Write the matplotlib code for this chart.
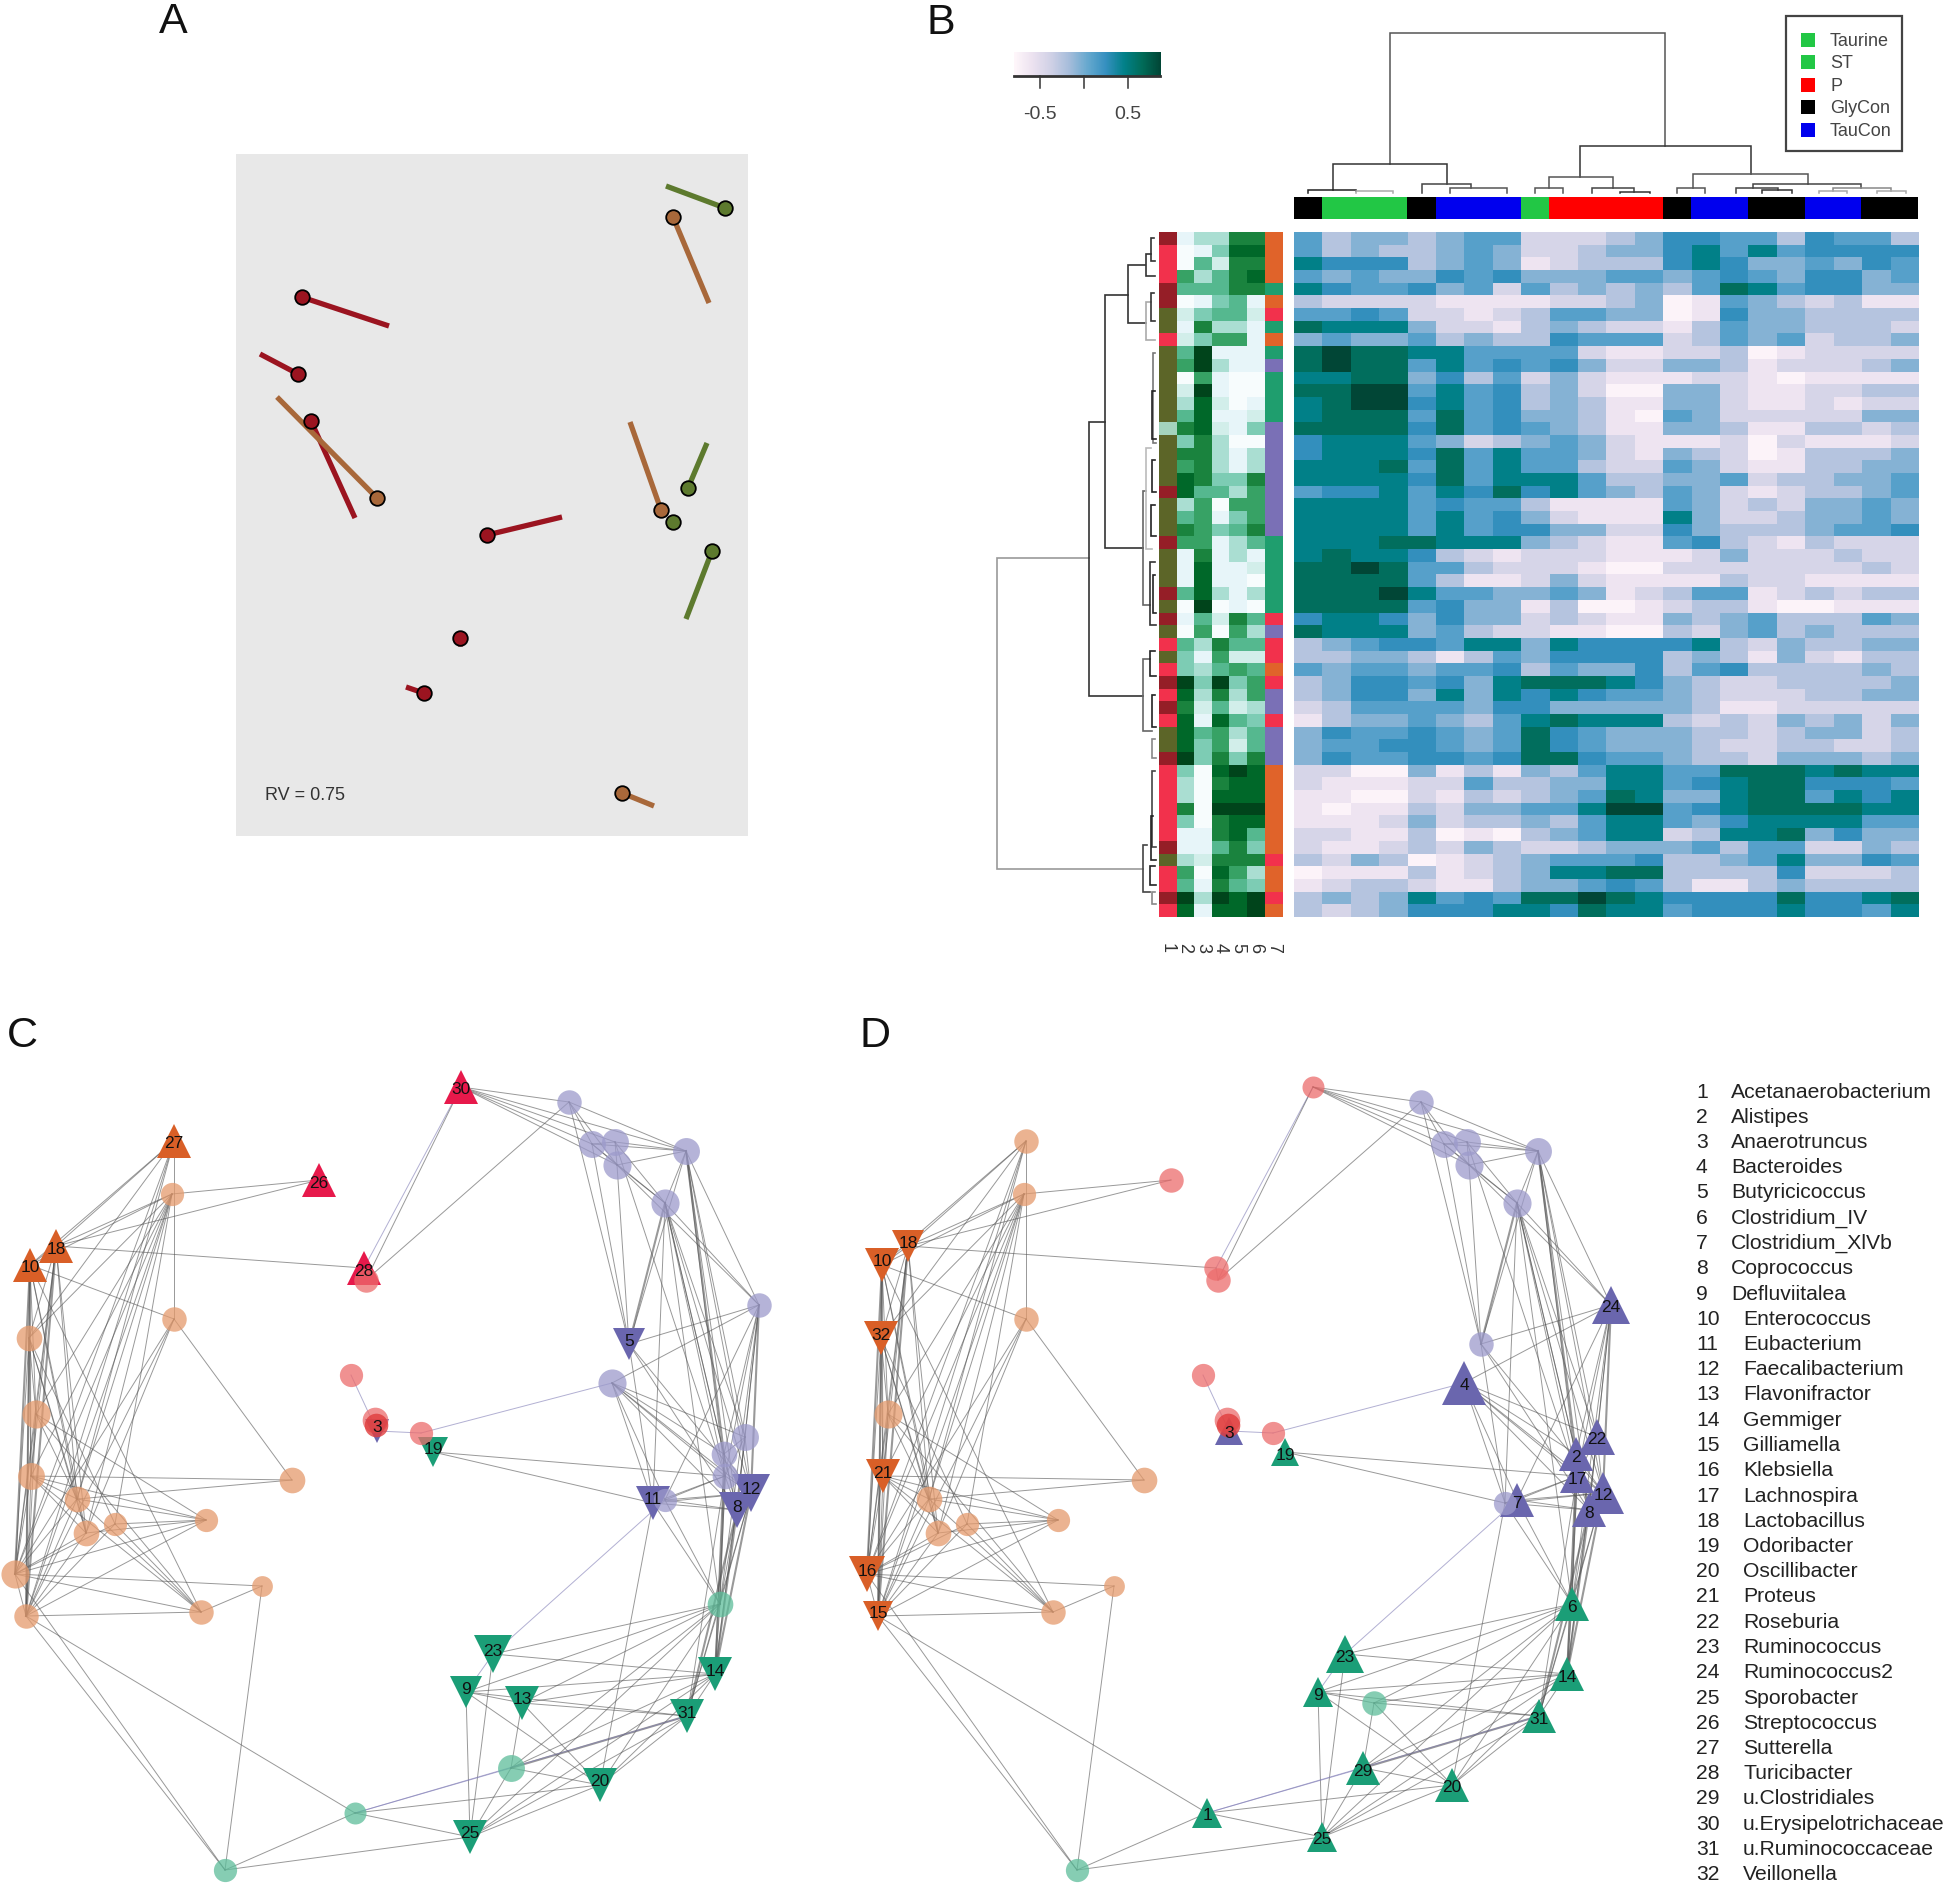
import numpy as np
import matplotlib
matplotlib.use('Agg')
import matplotlib.pyplot as plt
from matplotlib.colors import to_rgb
from matplotlib.patches import Rectangle

plt.rcParams['font.family'] = ['Liberation Sans', 'DejaVu Sans']

W, H = 1946, 1884

# panel A, procrustes residuals: start point -> end point
arrow_x0 = [301.5, 298, 311, 487, 460, 423.5, 673, 377, 661, 622, 725, 688, 673, 712]
arrow_y0 = [297, 374, 421, 535, 638, 693, 217, 498, 510, 793, 208, 488, 522, 551]
arrow_x1 = [389, 260, 355, 562, 460, 406, 709, 277, 630, 654, 666, 707, 669, 686]
arrow_y1 = [326, 354, 518, 517, 646, 687, 303, 397, 422, 806, 186, 443, 529, 619]
arrow_col = ['#9b1420'] * 6 + ['#a8683a'] * 4 + ['#5d7a2e'] * 4

# panel B, main heatmap, one digit per cell (0 = low, 9 = high)
heat_rows = [
    "5344345522234665536553", "5343345422344675756666", "7666345412333676445465",
    "5454465644455456546645", "7655645253434358756644", "3222211112234015432311",
    "5565221235544016443333", "8777422134322135443332", "4544534336555235452334",
    "8988775555211223012222", "8988575656422443122234", "7788463524211122101111",
    "8899575634200442112233", "7899675634311442112122", "7888585644310542222244",
    "8888685654311443113323", "6777542345421112021112", "6777685755421432013334",
    "7778585755322542113344", "7777685777533445233445", "5667576867543542123345",
    "7777565531111542324454", "7777575642111742234454", "7777575664422643334556",
    "7778877743211563213222", "7877632122211124222322", "8898553222100222222232",
    "8888531124211113221111", "8889755445412355123233", "8888564413001233100111",
    "6776464423211434533354", "8777453221100324534333", "3456657747666673243344",
    "3344313546666343142133", "5455455635446356333343", "3466564788876432233334",
    "3466474767655432223344", "2355554664444431122222", "1344543578777323243424",
    "4655654586544433234423", "4556654586544432233223", "4655665688655433244434",
    "2200413143577558887877", "2111225334477567886665", "1100213234587447885767",
    "1011324455799567888877", "1112423343577546777755", "2211301034577237784644",
    "2112324322344453552243", "3243012345556334574465", "0111312347788333362223",
    "1233211344565311343333", "3434756588987666686678", "3234666776877566676657",
]
# where each digit sits on the PuBuGn scale
level_pos = [0.02, 0.11, 0.22, 0.33, 0.44, 0.54, 0.63, 0.75, 0.86, 1.0]
# side heatmap, BuGn, five columns
side_rows = [
    "13377", "01488", "05277", "63578", "55577", "01451", "24552", "17331", "24661",
    "59111", "69311", "06100", "29100", "38201", "58112", "78214", "47300", "77313",
    "67313", "87447", "85536", "36066", "56146", "76457", "66135", "17131", "18112",
    "18110", "58313", "09010", "15275", "06063", "53755", "41622", "43565", "94946",
    "83736", "72523", "81854", "85635", "84625", "94747", "40898", "30788", "30888",
    "70999", "40788", "11785", "11574", "32777", "60863", "51754", "93989", "81889",
]
row_class = "DRRRDDOOR" + "OOOOOO" + "L" + "OOOO" + "D" + "OOO" + "D" + "OOO" + "D" + "O" + "D" + "O" + "R" + "O" + "R" + "D" + "R" + "D" + "R" + "OO" + "D" + "RRRRRR" + "D" + "O" + "RR" + "D" + "R"
row_module = "TTTTGTRGTGP" + "GGGG" + "PPPPPPPPP" + "GGGGGG" + "RP" + "RR" + "T" + "R" + "PP" + "R" + "PPP" + "TTTTTTT" + "R" + "TT" + "R" + "T"
class_colors = {'D': '#951e27', 'R': '#f2314c', 'O': '#5c6528', 'L': '#a4d3bd'}
module_colors = {'T': '#e0632a', 'G': '#1f9e6e', 'P': '#7a70b6', 'R': '#f2314c'}

col_groups = ['GlyCon', 'ST', 'GlyCon', 'TauCon', 'ST', 'P', 'GlyCon', 'TauCon', 'GlyCon', 'TauCon', 'GlyCon']
col_group_n = [1, 3, 1, 3, 1, 4, 1, 2, 2, 2, 2]
legend_names = ['Taurine', 'ST', 'P', 'GlyCon', 'TauCon']
legend_cols = ['#22c745', '#22c745', '#ff0000', '#000000', '#0000ee']
group_cols = dict(zip(legend_names, legend_cols))

# top dendrogram: y, x left, x right, y left child, y right child, shade
top_tree = [
    (33, 3.37, 13.09, 164, 146, '#555555'), (164, 1.37, 5.39, 190, 183.5, '#333333'),
    (146, 10.1, 16.1, 177, 174, '#333333'), (190, .48, 2.2, 193, 191, '#222222'),
    (191, 2.2, 3.5, 193, 193, '#aaaaaa'), (183.5, 4.5, 6.25, 193, 188, '#444444'),
    (188, 5.5, 7.5, 193, 193, '#555555'), (177, 9.0, 11.25, 188, 188, '#555555'),
    (188, 8.5, 9.5, 193, 193, '#555555'), (188, 10.5, 12.0, 193, 192, '#444444'),
    (192, 11.5, 12.55, 193, 193, '#333333'), (174, 14.07, 18.13, 188, 184, '#555555'),
    (188, 13.5, 14.5, 193, 193, '#555555'), (184, 16.2, 20.0, 188, 188, '#444444'),
    (188, 15.57, 17.05, 193, 190, '#444444'), (190, 16.5, 17.55, 193, 193, '#333333'),
    (188, 19.0, 21.06, 191, 191, '#888888'), (191, 18.5, 19.5, 193, 193, '#aaaaaa'),
    (191, 20.56, 21.56, 193, 193, '#aaaaaa'),
]
# left dendrogram: x, row top, row bottom, x top child, x bottom child, shade
left_tree = [
    (997, 25.7, 50.2, 1089, 1143, '#999999'), (1089, 15.0, 36.6, 1105, 1143, '#333333'),
    (1143, 48.3, 52.0, 1147, 1150, '#444444'), (1105, 5.0, 24.9, 1128, 1143, '#333333'),
    (1143, 33.7, 39.3, 1150, 1152, '#666666'), (1128, 2.6, 7.2, 1145, 1146, '#333333'),
    (1143, 20.4, 29.4, 1146, 1150, '#666666'), (1146, 1.7, 3.5, 1151, 1155, '#333333'),
    (1146, 5.5, 8.5, 1151, 1155, '#aaaaaa'), (1146, 17.0, 25.0, 1151, 1152, '#bbbbbb'),
    (1151, .5, 2.3, 1154, 1155, '#333333'), (1151, 4.8, 7.0, 1154, 1155, '#333333'),
    (1153, 9.5, 16.6, 1155, 1156, '#777777'), (1152, 12.5, 16.3, 1155, 1156, '#222222'),
    (1152, 18.0, 20.5, 1155, 1156, '#222222'), (1151, 21.5, 24.0, 1155, 1156, '#222222'),
    (1150, 26.0, 31.0, 1155, 1156, '#333333'), (1153, 27.0, 30.0, 1155, 1156, '#222222'),
    (1150, 33.0, 35.0, 1155, 1156, '#222222'), (1152, 36.5, 39.0, 1155, 1156, '#222222'),
    (1152, 40.0, 41.5, 1155, 1156, '#888888'), (1152, 42.5, 48.5, 1155, 1156, '#444444'),
    (1151, 46.0, 49.5, 1153, 1156, '#222222'), (1150, 50.0, 51.5, 1155, 1156, '#222222'),
    (1152, 52.0, 53.0, 1155, 1156, '#888888'),
]

# panels C and D, shared network layout
node_x = [174, 172, 56, 30, 174, 29, 36, 31, 292, 77, 86, 115, 206, 15, 262, 26, 201,
          319, 461, 364, 366, 351, 375, 377, 421,
          569, 592, 615, 617, 686, 665, 759, 629, 612, 745, 724, 725, 751, 737, 653, 665,
          720, 715, 493, 466, 522, 687, 511, 600, 355, 470, 225, 433]
node_y = [1141, 1194, 1246, 1265, 1319, 1338, 1414, 1476, 1480, 1499, 1533, 1524, 1520, 1574, 1586, 1616, 1612,
          1180, 1087, 1268, 1280, 1375, 1420, 1431, 1433,
          1102, 1144, 1142, 1165, 1151, 1203, 1305, 1344, 1383, 1437, 1454, 1476, 1493, 1510, 1503, 1500,
          1604, 1674, 1654, 1692, 1703, 1716, 1768, 1785, 1813, 1837, 1870, 1452]
node_group = "O" * 17 + "R" * 6 + "P" + "R" + "P" * 16 + "G" * 11 + "G"
node_size = [20, 19, 20, 20, 20, 21, 23, 22, 21, 21, 21, 19, 19, 23, 17, 20, 20,
             20, 18, 20, 20, 19, 21, 21, 19,
             20, 22, 22, 23, 22, 23, 20, 20, 23, 22, 21, 21, 20, 20, 19, 19,
             21, 20, 20, 20, 20, 20, 22, 20, 18, 20, 19, 20]
circle_cols = {'O': '#e59a6c', 'R': '#ec6c6c', 'P': '#9c9acb', 'G': '#5dbd9a'}
tri_cols = {'O': '#d95f27', 'R': '#e7194b', 'P': '#6a66ae', 'G': '#1b9e77'}

# node index: marker, genus number, marker size
nodes_c = {0: ('^', '27', 25), 2: ('^', '18', 25), 3: ('^', '10', 25), 17: ('^', '26', 25), 18: ('^', '30', 25),
           19: ('^', '28', 24), 23: ('v', '3', 17), 32: ('v', '5', 23), 37: ('v', '12', 28), 38: ('v', '8', 26),
           39: ('v', '11', 25), 42: ('v', '14', 25), 43: ('v', '23', 27), 44: ('v', '9', 23), 45: ('v', '13', 24),
           46: ('v', '31', 24), 48: ('v', '20', 24), 50: ('v', '25', 24), 52: ('v', '19', 22)}
nodes_d = {2: ('v', '18', 23), 3: ('v', '10', 25), 5: ('v', '32', 24), 7: ('v', '21', 24), 13: ('v', '16', 26),
           15: ('v', '15', 22), 23: ('^', '3', 20), 33: ('^', '4', 31), 31: ('^', '24', 27), 34: ('^', '22', 26),
           35: ('^', '2', 25), 36: ('^', '17', 24), 37: ('^', '12', 30), 38: ('^', '8', 25), 40: ('^', '7', 24),
           41: ('^', '6', 25), 42: ('^', '14', 25), 43: ('^', '23', 27), 44: ('^', '9', 22), 46: ('^', '31', 24),
           47: ('^', '29', 25), 48: ('^', '20', 25), 49: ('^', '1', 22), 50: ('^', '25', 22), 52: ('^', '19', 20)}

edges = [
    (0, 2), (0, 3), (0, 4), (0, 5), (0, 9), (0, 13), (0, 15),
    (1, 2), (1, 3), (1, 5), (1, 6), (1, 7), (1, 9), (1, 10), (1, 11), (1, 13), (1, 15), (1, 17),
    (2, 3), (2, 5), (2, 6), (2, 7), (2, 9), (2, 10), (2, 13), (2, 15), (2, 17), (2, 19),
    (3, 4), (3, 5), (3, 6), (3, 7), (3, 9), (3, 10), (3, 13), (3, 15), (3, 16),
    (4, 8), (4, 10), (4, 13), (4, 15),
    (5, 6), (5, 7), (5, 9), (5, 10), (5, 11), (5, 13), (5, 15),
    (6, 7), (6, 9), (6, 12), (6, 13), (6, 15), (6, 16),
    (7, 8), (7, 9), (7, 10), (7, 12), (7, 13), (7, 15), (7, 16),
    (8, 9), (9, 10), (9, 12), (9, 13), (9, 15), (9, 16),
    (10, 12), (10, 13), (10, 15), (11, 12), (11, 13), (11, 15), (11, 16),
    (12, 13), (12, 15), (13, 14), (13, 15), (13, 16), (14, 16), (14, 51),
    (15, 16), (15, 49), (15, 51), (13, 51),
    (18, 19), (18, 20), (18, 25), (18, 26), (18, 27), (18, 28), (18, 29), (19, 20), (20, 25),
    (21, 23), (23, 24), (24, 33), (52, 39), (52, 36),
    (25, 26), (25, 29), (25, 28), (25, 32), (26, 27), (26, 28), (26, 29), (26, 30), (26, 32),
    (27, 28), (27, 29), (27, 30), (27, 36), (28, 29), (28, 30), (28, 31), (28, 32),
    (29, 30), (29, 31), (29, 32), (29, 34), (29, 35), (29, 36), (29, 37), (29, 38),
    (30, 31), (30, 32), (30, 34), (30, 35), (30, 36), (30, 37), (30, 38), (30, 39), (30, 41),
    (31, 32), (31, 33), (31, 34), (31, 35), (31, 36), (31, 37), (31, 38), (31, 40), (31, 41),
    (32, 37), (32, 38), (32, 39), (33, 34), (33, 35), (33, 36), (33, 37), (33, 38), (33, 39), (33, 40),
    (34, 35), (34, 36), (34, 37), (34, 38), (35, 36), (35, 37), (35, 38), (36, 37), (36, 38), (37, 38),
    (39, 40), (39, 36), (39, 37), (39, 38), (40, 36), (40, 37), (40, 38), (39, 41), (40, 41), (40, 43), (39, 48),
    (38, 41), (38, 42), (38, 46), (37, 41), (37, 42), (37, 46), (36, 41), (36, 42), (36, 46),
    (34, 42), (35, 42), (35, 41),
    (41, 42), (41, 43), (41, 44), (41, 45), (41, 46), (41, 47), (41, 48), (41, 50),
    (42, 43), (42, 44), (42, 45), (42, 46), (42, 47), (42, 48), (42, 50),
    (43, 44), (43, 50), (44, 45), (44, 46), (44, 50), (44, 48), (45, 46), (45, 47), (45, 48),
    (46, 47), (46, 48), (46, 49), (46, 50), (47, 48), (47, 49), (47, 50), (48, 49), (48, 50),
    (49, 50), (49, 51), (50, 51),
]
thick_edges = [(3, 15), (3, 13), (2, 15), (30, 32), (31, 37), (38, 42), (37, 42), (36, 42), (46, 47), (38, 46), (29, 35)]
tinted_edges = [(21, 23), (23, 24), (24, 33), (18, 19), (43, 44), (40, 43), (46, 49), (47, 49)]

genus_names = ['Acetanaerobacterium', 'Alistipes', 'Anaerotruncus', 'Bacteroides', 'Butyricicoccus',
               'Clostridium_IV', 'Clostridium_XlVb', 'Coprococcus', 'Defluviitalea', 'Enterococcus',
               'Eubacterium', 'Faecalibacterium', 'Flavonifractor', 'Gemmiger', 'Gilliamella', 'Klebsiella',
               'Lachnospira', 'Lactobacillus', 'Odoribacter', 'Oscillibacter', 'Proteus', 'Roseburia',
               'Ruminococcus', 'Ruminococcus2', 'Sporobacter', 'Streptococcus', 'Sutterella', 'Turicibacter',
               'u.Clostridiales', 'u.Erysipelotrichaceae', 'u.Ruminococcaceae', 'Veillonella']


def px_axes(x0, y0, x1, y1, xlim=None, ylim=None):
    # axes placed by reference pixels
    ax = fig.add_axes([x0 / W, 1 - y1 / H, (x1 - x0) / W, (y1 - y0) / H])
    ax.set_xlim(xlim if xlim else (x0, x1))
    ax.set_ylim(ylim if ylim else (y1, y0))
    ax.axis('off')
    return ax


def draw_network(ax, nodes):
    for a, b in edges:
        lw, col, al = 0.7, '#555555', 0.6
        if (a, b) in thick_edges:
            lw = 1.5
        if (a, b) in tinted_edges:
            col = '#7f7bb5'
        ax.plot([node_x[a], node_x[b]], [node_y[a], node_y[b]], color=col, lw=lw, alpha=al, zorder=1)
    for i in range(len(node_x)):
        g = node_group[i]
        if i in nodes:
            mk, lab, ms = nodes[i]
            ax.plot(node_x[i], node_y[i], mk, color=tri_cols[g], ms=ms, mew=0, zorder=3, clip_on=False)
            dy = 3 if mk == '^' else -3
            ax.text(node_x[i], node_y[i] + dy, lab, ha='center', va='center', fontsize=12.5, color='#111111', zorder=5)
        else:
            ax.plot(node_x[i], node_y[i], 'o', color=circle_cols[g], ms=node_size[i] * 0.88, mew=0, zorder=4, alpha=0.75, clip_on=False)
    # red circle sitting on node 3
    ax.plot(node_x[23] - 1, node_y[23] - 6, 'o', color='#e03c3c', ms=17, mew=0, alpha=0.8, zorder=4)


fig = plt.figure(figsize=(W / 100, H / 100), dpi=100)

# panel letters
for lab, lx, ly in [('A', 173, 22), ('B', 941, 23), ('C', 22, 1036), ('D', 875, 1036)]:
    fig.text(lx / W, 1 - ly / H, lab, fontsize=31, ha='center', va='center', color='#111111')

# A
ax_a = px_axes(236, 154, 748, 836)
ax_a.add_patch(Rectangle((236, 154), 512, 682, color='#e8e8e8', zorder=0))
for i in range(len(arrow_x0)):
    ax_a.plot([arrow_x0[i], arrow_x1[i]], [arrow_y0[i], arrow_y1[i]], color=arrow_col[i], lw=3.8, solid_capstyle='butt', zorder=2)
for i in range(len(arrow_x0)):
    ax_a.plot(arrow_x0[i], arrow_y0[i], 'o', color=arrow_col[i], ms=10.5, mec='black', mew=1.3, zorder=3)
ax_a.text(265, 796, 'RV = 0.75', fontsize=13, va='center', ha='left', color='#333333')

# B heatmap
heat = np.array([[level_pos[int(c)] for c in r] for r in heat_rows])
ax_heat = px_axes(1294, 232, 1918, 917, (0, 22), (54, 0))
ax_heat.imshow(heat, cmap='PuBuGn', vmin=0, vmax=1, extent=(0, 22, 54, 0), aspect='auto', interpolation='nearest')

ax_side = px_axes(1158.5, 232, 1282.5, 917, (0, 7), (54, 0))
side = np.array([[int(c) for c in r] for r in side_rows]) / 9
ax_side.imshow(side, cmap='BuGn', vmin=0, vmax=1, extent=(1, 6, 54, 0), aspect='auto', interpolation='nearest')
c1 = np.array([[to_rgb(class_colors[c])] for c in row_class])
c7 = np.array([[to_rgb(module_colors[c])] for c in row_module])
ax_side.imshow(c1, extent=(0, 1, 54, 0), aspect='auto', interpolation='nearest')
ax_side.imshow(c7, extent=(6, 7, 54, 0), aspect='auto', interpolation='nearest')
ax_side.set_xlim(0, 7)
ax_side.set_ylim(54, 0)
for i in range(7):
    ax_side.text(i + 0.5, 54 + 2.45, str(i + 1), rotation=270, fontsize=13, ha='center', va='center', color='#333333', clip_on=False)

# B column bar and top tree
ax_bar = px_axes(1294, 197, 1918, 219, (0, 22), (1, 0))
start = 0
for g, n in zip(col_groups, col_group_n):
    ax_bar.barh(0.5, n, left=start, height=1, color=group_cols[g], linewidth=0)
    start += n
ax_top = px_axes(1294, 20, 1918, 197, (0, 22), (197, 20))
for y, xl, xr, yl, yr, c in top_tree:
    ax_top.plot([xl, xl, xr, xr], [yl, y, y, yr], color=c, lw=1.1, solid_joinstyle='miter')

# B left tree
ax_left = px_axes(990, 232, 1158, 917, (990, 1158), (54, 0))
for x, r0, r1, xa, xb, c in left_tree:
    ax_left.plot([xa, x, x, xb], [r0, r0, r1, r1], color=c, lw=1.2, solid_joinstyle='miter')

# B colour key
ax_key = px_axes(1014, 52, 1160, 76, (-0.795, 0.865), (0, 1))
ax_key.imshow(np.linspace(0, 1, 200).reshape(1, -1), cmap='PuBuGn', extent=(-0.795, 0.865, 0, 1), aspect='auto')
ax_key.set_xlim(-0.795, 0.865)
ax_key.set_ylim(0, 1)
ax_key.axhline(0, color='#333333', lw=2, clip_on=False)
for t in [-0.5, 0, 0.5]:
    ax_key.plot([t, t], [0, -0.5], color='#333333', lw=1.1, clip_on=False)
ax_key.text(-0.5, -1.6, '-0.5', fontsize=14, ha='center', va='center', color='#444444', clip_on=False)
ax_key.text(0.5, -1.6, '0.5', fontsize=14, ha='center', va='center', color='#444444', clip_on=False)

# B legend
ax_leg = px_axes(1786, 16, 1902, 151)
ax_leg.add_patch(Rectangle((1786, 16), 116, 135, fill=False, ec='#444444', lw=1.6, clip_on=False))
for i, name in enumerate(legend_names):
    yy = 40 + i * 22.4
    ax_leg.add_patch(Rectangle((1801, yy - 7), 14, 14, color=legend_cols[i], lw=0))
    ax_leg.text(1830, yy + 1.5, name, fontsize=13, va='center', ha='left', color='#444444')

# C and D
ax_c = px_axes(0, 1000, 860, 1884)
draw_network(ax_c, nodes_c)
ax_d = px_axes(852, 1000, 1712, 1884, (0, 860), (1884, 1000))
draw_network(ax_d, nodes_d)

# genus list
ax_txt = px_axes(1690, 1060, 1946, 1884)
for i, name in enumerate(genus_names):
    yy = 1092 + i * 25.25
    ax_txt.text(1696, yy, str(i + 1), fontsize=15.2, va='center', ha='left', color='#222222')
    ax_txt.text(1731 if i < 9 else 1743, yy, name, fontsize=15.2, va='center', ha='left', color='#222222')

fig.savefig('out.png', dpi=100)
